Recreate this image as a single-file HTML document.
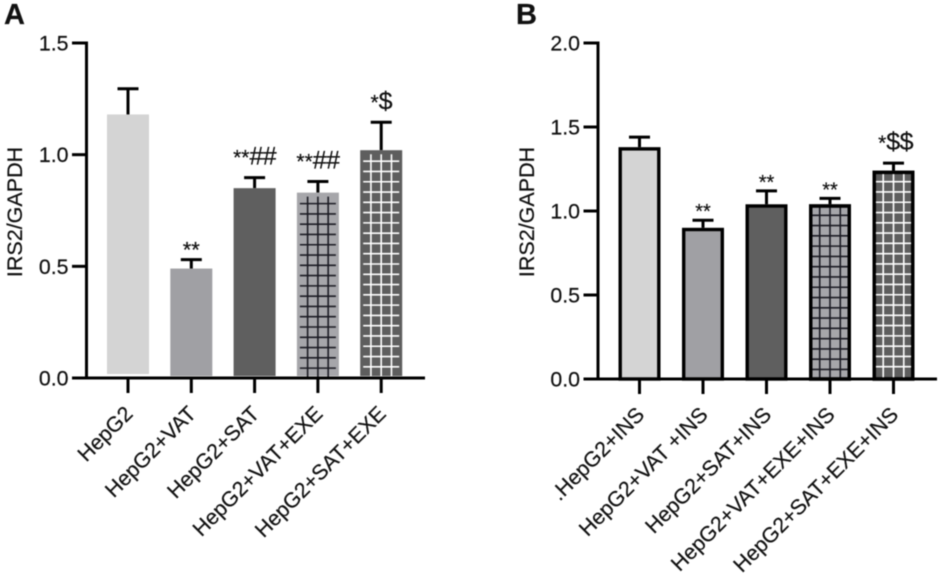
<!DOCTYPE html>
<html lang="en">
<head>
<meta charset="utf-8">
<title>IRS2/GAPDH bar charts</title>
<style>
  html, body { margin: 0; padding: 0; background: #fff; }
  #figure { display: block; width: 945px; height: 578px; filter: blur(0.45px); }
  text { font-family: "Liberation Sans", Arial, sans-serif; fill: #111; stroke: #111; stroke-width: 0.2px; }
</style>
</head>
<body>
<svg id="figure" xmlns="http://www.w3.org/2000/svg" width="945" height="578" viewBox="0 0 945 578">
  <text x="4" y="24" font-size="29" font-weight="700">A</text>
  <text x="516" y="24" font-size="29" font-weight="700">B</text>
  <g id="panel-a"></g>
  <g id="panel-b"></g>
</svg>
<script>
// Panel A data
const categoriesA = ["HepG2", "HepG2+VAT", "HepG2+SAT", "HepG2+VAT+EXE", "HepG2+SAT+EXE"];
const valuesA = [1.18, 0.49, 0.85, 0.83, 1.02];
const errorsA = [0.115, 0.04, 0.047, 0.05, 0.125];
const annotationsA = ["", "**", "**##", "**##", "*$"];
const ticksA = [0, 0.5, 1.0, 1.5];
const tickLabelsA = ["0.0", "0.5", "1.0", "1.5"];

// Panel B data
const categoriesB = [".HepG2+INS", "HepG2+VAT +INS", "HepG2+SAT+INS", "HepG2+VAT+EXE+INS", "HepG2+SAT+EXE+INS"];
const valuesB = [1.38, 0.90, 1.04, 1.04, 1.24];
const errorsB = [0.06, 0.045, 0.08, 0.035, 0.045];
const annotationsB = ["", "**", "**", "**", "*$$"];
const ticksB = [0, 0.5, 1.0, 1.5, 2.0];
const tickLabelsB = ["0.0", "0.5", "1.0", "1.5", "2.0"];

// Shared bar styling by group
const fills = ["#d4d4d4", "#a0a0a4", "#5f5f5f", "#a6a6aa", "#5e5e5e"];
const hatchColors = [null, null, null, "#1c1c24", "#ffffff"];

const NS = "http://www.w3.org/2000/svg";

function make(tag, attrs, parent) {
  const el = document.createElementNS(NS, tag);
  for (const k in attrs) el.setAttribute(k, attrs[k]);
  parent.appendChild(el);
  return el;
}

function drawPanel(root, cfg) {
  const yScale = v => cfg.y0 - (v / cfg.yMax) * (cfg.y0 - cfg.yTop);
  const xScale = i => cfg.x0 + i * cfg.step;
  const BAR = 42;
  const SPACING = 10.28;

  // y axis title
  const title = make("text", {
    x: 0, y: 0, "font-size": 21.5, "text-anchor": "middle",
    transform: `translate(${cfg.titleX},212) rotate(-90)`
  }, root);
  title.textContent = "IRS2/GAPDH";
  
  

  // bars
  cfg.values.forEach((v, i) => {
    const cx = xScale(i);
    const top = yScale(v);
    const errTop = yScale(v + cfg.errors[i]);
    const g = make("g", {}, root);
    
    

    // error bar
    const stem = make("line", { x1: cx, x2: cx, y1: errTop, y2: top, stroke: "#000", "stroke-width": 3 }, g);
    
    
    const cap = make("line", { x1: cx - 10.5, x2: cx + 10.5, y1: errTop, y2: errTop, stroke: "#000", "stroke-width": 3 }, g);
    
    

    // bar body
    const inset = cfg.outlined ? 1.7 : 0;
    const bottom = cfg.y0 - (cfg.outlined ? 0 : (i === 0 ? 4 : 2));
    const rect = make("rect", {
      x: cx - BAR / 2 + inset, y: top + inset,
      width: BAR - 2 * inset, height: bottom - top - inset,
      fill: fills[i],
      stroke: cfg.outlined ? "#000" : "none",
      "stroke-width": cfg.outlined ? 3.4 : 0
    }, g);
    
    

    // grid hatching
    if (hatchColors[i]) {
      const lineWidth = 1.6;
      const half = cfg.outlined ? 18.5 : 18;
      const vStart = top + (cfg.outlined ? 3 : 4);
      [-SPACING, 0, SPACING].forEach(dx => {
        const vl = make("line", { x1: cx + dx, x2: cx + dx, y1: vStart, y2: cfg.y0 - 1, stroke: hatchColors[i], "stroke-width": lineWidth }, g);
        
        
      });
      for (let hy = top + 11; hy < cfg.y0 - 6; hy += SPACING) {
        const hl = make("line", { x1: cx - half, x2: cx + half, y1: hy, y2: hy, stroke: hatchColors[i], "stroke-width": lineWidth }, g);
        
        
      }
      if (cfg.outlined) {
        const outline = make("rect", { x: cx - BAR / 2 + inset, y: top + inset, width: BAR - 2 * inset, height: bottom - top - inset, fill: "none", stroke: "#000", "stroke-width": 3.4 }, g);
        
        
      }
    }

    // significance annotation: stars plus taller symbols
    const note = cfg.annotations[i];
    if (note) {
      const stars = note.replace(/[^*]/g, "");
      const symbols = note.replace(/\*/g, "");
      const gap = symbols ? 13 : 2;
      const t = make("text", { x: cx + (note === "*$$" ? 2 : 0), y: errTop - gap, "font-size": symbols ? 21 : cfg.starSize, "text-anchor": "middle" }, g);
      
      
      const starSpan = make("tspan", {}, t);
      starSpan.textContent = stars;
      if (symbols) {
        const symSpan = make("tspan", { "font-size": 25, "letter-spacing": "-0.6" }, t);
        symSpan.textContent = symbols;
      }
    }
  });

  // axes
  const yAxis = make("line", { x1: cfg.axisX, x2: cfg.axisX, y1: cfg.yTop - 1.5, y2: cfg.y0 + 1.5, stroke: "#000", "stroke-width": 3 }, root);
  
  
  const xAxis = make("line", { x1: cfg.axisX - 14.5, x2: cfg.axisEnd, y1: cfg.y0, y2: cfg.y0, stroke: "#000", "stroke-width": 3 }, root);
  
  

  // y ticks
  cfg.ticks.forEach((tv, i) => {
    const y = yScale(tv);
    const tick = make("line", { x1: cfg.axisX - 14.5, x2: cfg.axisX, y1: y, y2: y, stroke: "#000", "stroke-width": 3 }, root);
    
    
    const lab = make("text", { x: cfg.axisX - 18, y: y + 7.5, "font-size": 21.3, "text-anchor": "end" }, root);
    lab.textContent = cfg.tickLabels[i];
    
    
  });

  // x ticks and labels
  cfg.categories.forEach((c, i) => {
    const x = xScale(i);
    const tick = make("line", { x1: x, x2: x, y1: cfg.y0, y2: cfg.y0 + 15, stroke: "#000", "stroke-width": 3 }, root);
    
    
    const lab = make("text", {
      x: 0, y: 0, "font-size": 21.3, "text-anchor": "end",
      transform: `translate(${x + 6},${cfg.y0 + 37}) rotate(-45)`
    }, root);
    lab.textContent = c;
    
    
  });
}

drawPanel(document.getElementById("panel-a"), {
  categories: categoriesA, values: valuesA, errors: errorsA, annotations: annotationsA,
  ticks: ticksA, tickLabels: tickLabelsA, yMax: 1.5,
  y0: 378, yTop: 43, axisX: 86.5, axisEnd: 425, x0: 128, step: 63.3,
  titleX: 22, outlined: false, starSize: 22
});
drawPanel(document.getElementById("panel-b"), {
  categories: categoriesB, values: valuesB, errors: errorsB, annotations: annotationsB,
  ticks: ticksB, tickLabels: tickLabelsB, yMax: 2.0,
  y0: 379, yTop: 43, axisX: 598, axisEnd: 937, x0: 639.5, step: 63.5,
  titleX: 534, outlined: true, starSize: 20
});
</script>
</body>
</html>
